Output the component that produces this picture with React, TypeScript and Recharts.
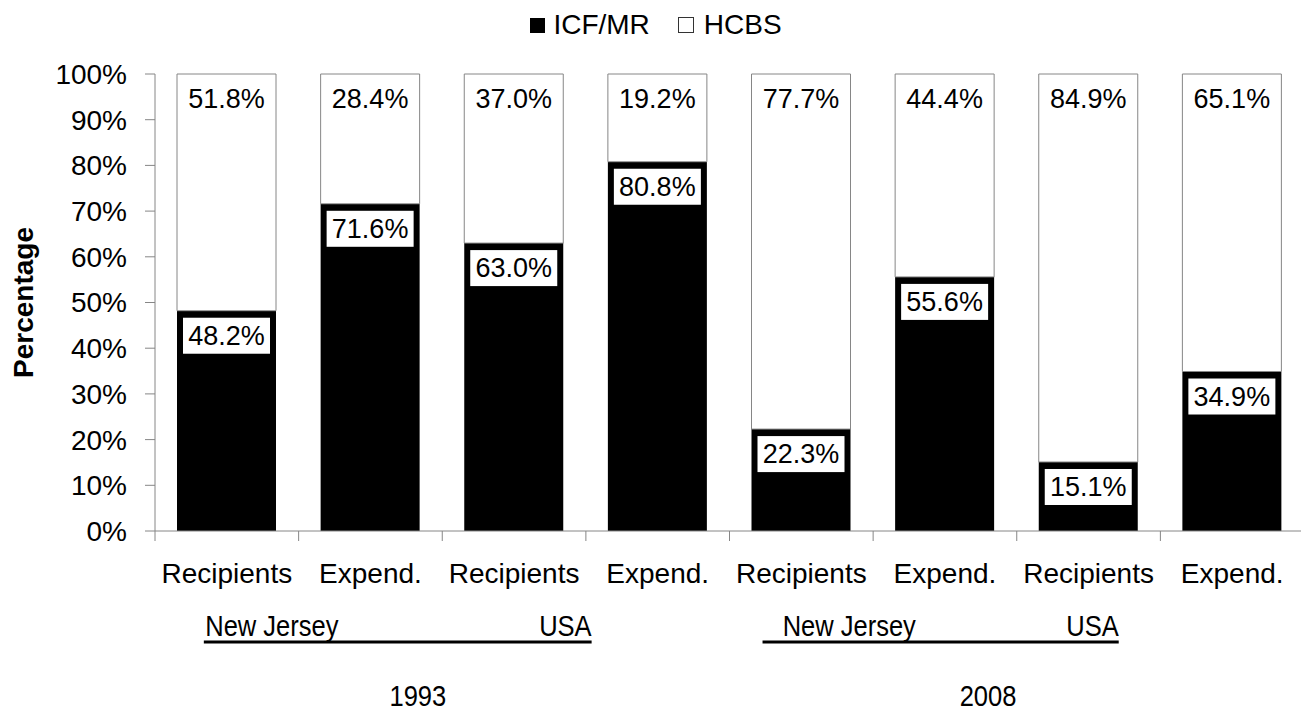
import React from 'react';
import { BarChart, Bar, XAxis, YAxis, Legend, LabelList } from 'recharts';

const categories = ['Recipients', 'Expend.', 'Recipients', 'Expend.', 'Recipients', 'Expend.', 'Recipients', 'Expend.'];
const icfValues = [48.2, 71.6, 63.0, 80.8, 22.3, 55.6, 15.1, 34.9];
const hcbsValues = [51.8, 28.4, 37.0, 19.2, 77.7, 44.4, 84.9, 65.1];
const seriesNames = ['ICF/MR', 'HCBS'];
const regionLabels = ['New Jersey', 'USA'];
const yearLabels = ['1993', '2008'];
const yTicks = [0, 10, 20, 30, 40, 50, 60, 70, 80, 90, 100];

const rows = categories.map((c, i) => ({ cat: c, idx: i, icf: icfValues[i], hcbs: hcbsValues[i] }));

const FONT = '"Liberation Sans", Arial, sans-serif';
const AXIS_GREY = '#868686';

// layout of the hand-placed group annotations, in category widths from the group's start
const groupLayout = [
  { lineFrom: 0.34, lineTo: 3.04, njAt: 0.35, usaAt: 3.04, yearAt: 1.83 },
  { lineFrom: 0.23, lineTo: 2.71, njAt: 0.37, usaAt: 2.71, yearAt: 1.80 },
];

const NarrowText = ({ x, y, anchor, size, children }: any) => (
  <text
    transform={`translate(${x} ${y}) scale(0.88 1)`}
    x={0}
    y={0}
    textAnchor={anchor}
    fontFamily={FONT}
    fontSize={size}
    fill="#000"
  >
    {children}
  </text>
);

const XTick = (props: any) => {
  const { x, y, payload } = props;
  const half = payload && payload.offset ? payload.offset : 71.8;
  const catW = half * 2;
  const index = payload.index;
  const bx = x - half;
  const parts: any[] = [];
  parts.push(<line key="t" x1={bx} x2={bx} y1={y - 10} y2={y} stroke={AXIS_GREY} strokeWidth={1} />);
  parts.push(
    <text key="l" x={x} y={y + 42} textAnchor="middle" fontFamily={FONT} fontSize={28} fill="#000">
      {payload.value}
    </text>
  );
  if (index % 4 === 0) {
    const g = index / 4;
    const L = groupLayout[g];
    const gs = bx;
    parts.push(
      <line key="u" x1={gs + L.lineFrom * catW} x2={gs + L.lineTo * catW} y1={y + 101} y2={y + 101} stroke="#000" strokeWidth={3} />
    );
    parts.push(
      <NarrowText key="nj" x={gs + L.njAt * catW} y={y + 95} anchor="start" size={29}>
        {regionLabels[0]}
      </NarrowText>
    );
    parts.push(
      <NarrowText key="us" x={gs + L.usaAt * catW} y={y + 95} anchor="end" size={29}>
        {regionLabels[1]}
      </NarrowText>
    );
    parts.push(
      <NarrowText key="yr" x={gs + L.yearAt * catW} y={y + 165} anchor="middle" size={29}>
        {yearLabels[g]}
      </NarrowText>
    );
  }
  return <g>{parts}</g>;
};

const BoxLabel = (props: any) => {
  const { x, y, width, value } = props;
  if (value === undefined || value === null) return null;
  return (
    <g>
      <rect x={x + 6} y={y + 7} width={width - 12} height={36} fill="#fff" />
      <text x={x + width / 2} y={y + 25} textAnchor="middle" dominantBaseline="central" fontFamily={FONT} fontSize={27} fill="#000">
        {Number(value).toFixed(1)}%
      </text>
    </g>
  );
};

const YLabel = (props: any) => {
  const vb = props.viewBox || { x: 95, y: 74, width: 60, height: 457 };
  const lx = vb.x - 62;
  const ly = vb.y + vb.height / 2;
  return (
    <text x={lx} y={ly} transform={`rotate(-90 ${lx} ${ly})`} textAnchor="middle" fontFamily={FONT} fontWeight="bold" fontSize={28} fill="#000">
      Percentage
    </text>
  );
};

const LegendContent = (props: any) => {
  const payload = [...(props.payload || [])].sort(
    (a: any, b: any) => seriesNames.indexOf(a.value) - seriesNames.indexOf(b.value)
  );
  return (
    <div style={{ width: 1301, height: 44, display: 'flex', justifyContent: 'center', alignItems: 'center', paddingLeft: 11, boxSizing: 'border-box', paddingTop: 6 }}>
      {payload.map((p: any, i: number) => {
        const isBlack = p.value === seriesNames[0];
        return (
          <div key={i} style={{ display: 'flex', alignItems: 'center', marginRight: i === 0 ? 28 : 0 }}>
            <div style={{ width: isBlack ? 15 : 14, height: isBlack ? 15 : 14, background: isBlack ? '#000' : '#fff', border: isBlack ? 'none' : '1px solid #333', marginRight: isBlack ? 8 : 10 }} />
            <span style={{ fontFamily: FONT, fontSize: 28, color: '#000', lineHeight: '32px' }}>{p.value}</span>
          </div>
        );
      })}
    </div>
  );
};

export default function App() {
  return (
    <div style={{ position: 'absolute', left: 0, top: 0, width: 1301, height: 711, background: '#fff' }}>
      <BarChart width={1301} height={711} data={rows} margin={{ top: 30, right: -3, bottom: 150, left: 95 }} barSize={99}>
        <Legend verticalAlign="top" align="center" content={<LegendContent />} wrapperStyle={{ top: 0, left: 0, width: 1301, height: 44 }} />
        <XAxis dataKey="cat" interval={0} axisLine={{ stroke: AXIS_GREY }} tickLine={false} tickSize={10} tickMargin={0} height={30} tick={<XTick />} />
        <YAxis
          domain={[0, 100]}
          ticks={yTicks}
          interval={0}
          tickFormatter={(v: number) => `${v}%`}
          axisLine={{ stroke: AXIS_GREY }}
          tickLine={{ stroke: AXIS_GREY }}
          tickSize={10}
          tickMargin={18}
          width={60}
          tick={{ fill: '#000', fontSize: 28, fontFamily: FONT }}
          label={<YLabel />}
        />
        <Bar dataKey="icf" name={seriesNames[0]} stackId="a" fill="#000" isAnimationActive={false}>
          <LabelList dataKey="icf" content={<BoxLabel />} />
        </Bar>
        <Bar dataKey="hcbs" name={seriesNames[1]} stackId="a" fill="#fff" stroke={AXIS_GREY} strokeWidth={1} isAnimationActive={false}>
          <LabelList dataKey="hcbs" content={<BoxLabel />} />
        </Bar>
      </BarChart>
    </div>
  );
}
